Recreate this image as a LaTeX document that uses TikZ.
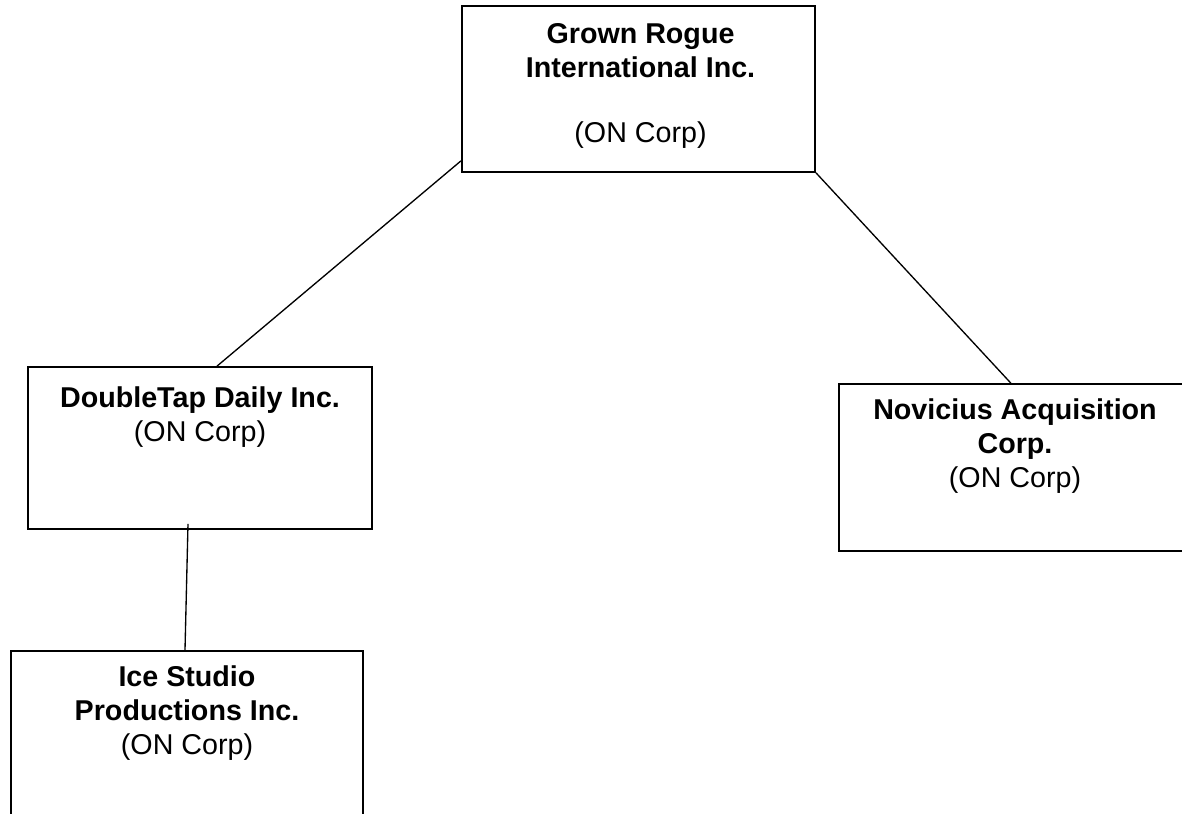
\documentclass[tikz,border=0pt]{standalone}
\usepackage{fontspec}
\setmainfont{Liberation Sans}
\usetikzlibrary{calc}

\tikzset{every picture/.style={line width=0.75pt}}
\tikzset{
  orgbox/.style={draw, line width=1.3pt, rectangle, inner sep=0pt},
  orgtext/.style={anchor=base, align=center, inner sep=0pt, font=\fontsize{21.5}{25.5}\selectfont},
  orgline/.style={line width=1pt}
}

\begin{document}
\begin{tikzpicture}[x=0.75pt,y=0.75pt,yscale=-1,xscale=1]
		\useasboundingbox (0,0) rectangle (1182,814);
		\clip (0,0) rectangle (1182,814);
		%Shape: Rectangle [id:gri] 
		\node [orgbox, minimum width=265pt, minimum height=124.5pt] (gri) at (638.5,89) {};
		%Shape: Rectangle [id:dtd] 
		\node [orgbox, minimum width=258pt, minimum height=121.5pt] (dtd) at (200,448) {};
		%Shape: Rectangle [id:nac] 
		\node [orgbox, minimum width=258pt, minimum height=125pt] (nac) at (1011,467.5) {};
		%Shape: Rectangle [id:isp] 
		\node [orgbox, minimum width=264pt, minimum height=127.5pt] (isp) at (187,736) {};

		%Straight Lines [id:gri-dtd] 
		\draw [orgline]   ([yshift=-9pt]gri.south west) -- ([xshift=12.75pt]dtd.north) ;
		%Straight Lines [id:gri-nac] 
		\draw [orgline]   (gri.south east) -- (nac.north) ;
		%Straight Lines [id:dtd-isp] 
		\draw [orgline]   ([xshift=-9pt,yshift=-4.5pt]dtd.south) -- ([xshift=-1.5pt]isp.north) ;

		% Text Node
		\node [orgtext] (grit) at ($(gri.north)+(2,137)$) {\textbf{Grown Rogue}\\\textbf{International Inc.}\\[23pt](ON Corp)};
		% Text Node
		\node [orgtext] (dtdt) at ($(dtd.north)+(0,75)$) {\textbf{DoubleTap Daily Inc.}\\(ON Corp)};
		% Text Node
		\node [orgtext] (nact) at ($(nac.north)+(4,104)$) {\textbf{Novicius Acquisition}\\\textbf{Corp.}\\(ON Corp)};
		% Text Node
		\node [orgtext] (ispt) at ($(isp.north)+(0,104)$) {\textbf{Ice Studio}\\\textbf{Productions Inc.}\\(ON Corp)};

	\end{tikzpicture}
\end{document}
